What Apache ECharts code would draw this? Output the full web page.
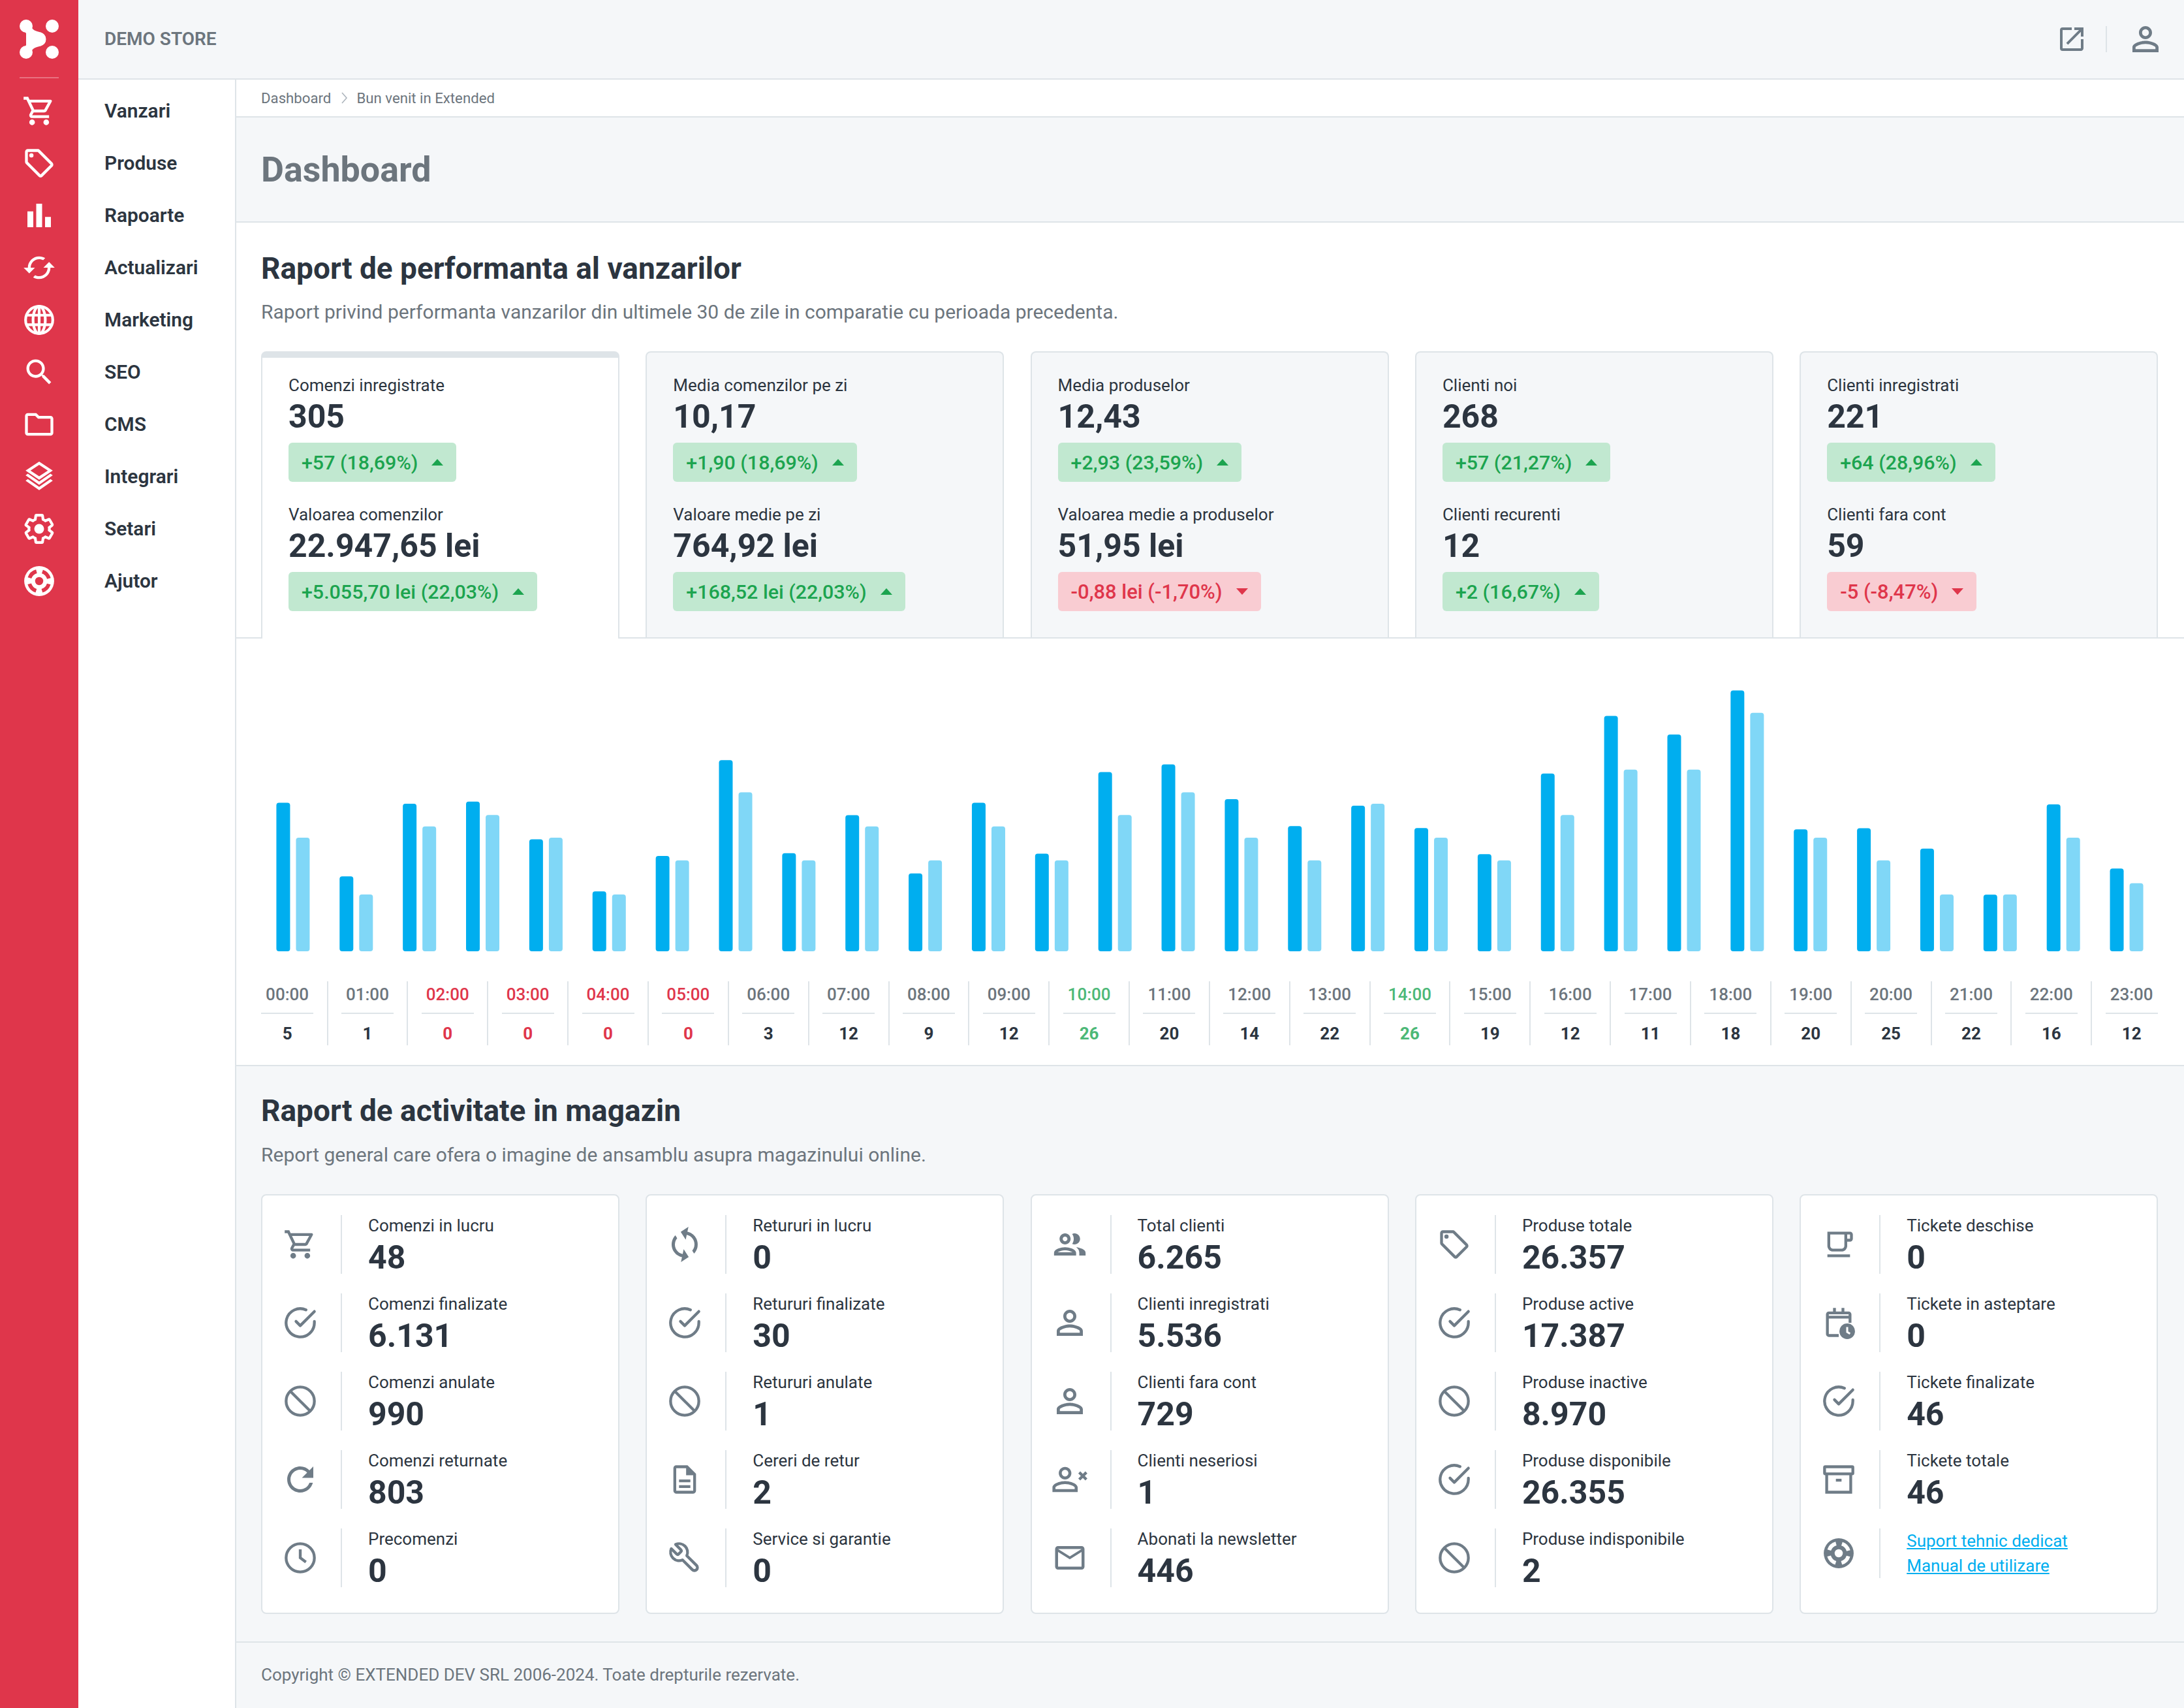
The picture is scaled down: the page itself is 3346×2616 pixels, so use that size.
<!DOCTYPE html>
<html><head><meta charset="utf-8">
<script src="https://cdn.jsdelivr.net/npm/echarts@6/dist/echarts.min.js"></script>
<style>
html,body{margin:0;padding:0;width:3346px;height:2616px;overflow:hidden;background:#fff;font-family:Roboto,sans-serif;-webkit-font-smoothing:antialiased}
#page{position:relative;width:3346px;height:2616px;overflow:hidden}
.b{position:absolute;box-sizing:border-box}
.t{position:absolute;white-space:nowrap}
svg{position:absolute;overflow:visible}
</style></head><body><div id="page"><div id="chart" class="b" style="left:362px;top:1000px;width:2984px;height:480px;z-index:2"></div></div>
<script>
// ---- chart data ----
const days = ['1','2','3','4','5','6','7','8','9','10','11','12','13','14','15','16','17','18','19','20','21','22','23','24','25','26','27','28','29','30'];
const orderValue = [837,422,832,844,631,338,537,1077,553,767,439,837,550,1010,1053,857,706,821,695,547,1002,1327,1222,1470,687,694,579,319,828,466];
const orderCount = [10,5,11,12,10,5,8,14,8,11,8,11,8,12,14,10,8,13,10,8,12,16,16,21,10,8,5,5,10,6];
const hours = ['00:00','01:00','02:00','03:00','04:00','05:00','06:00','07:00','08:00','09:00','10:00','11:00','12:00','13:00','14:00','15:00','16:00','17:00','18:00','19:00','20:00','21:00','22:00','23:00'];
const hourCounts = [5,1,0,0,0,0,3,12,9,12,26,20,14,22,26,19,12,11,18,20,25,22,16,12];
// ---- tiles ----
const tileA = [
 ['Comenzi inregistrate','305','+57 (18,69%)',1,'Valoarea comenzilor','22.947,65 lei','+5.055,70 lei (22,03%)',1],
 ['Media comenzilor pe zi','10,17','+1,90 (18,69%)',1,'Valoare medie pe zi','764,92 lei','+168,52 lei (22,03%)',1],
 ['Media produselor','12,43','+2,93 (23,59%)',1,'Valoarea medie a produselor','51,95 lei','-0,88 lei (-1,70%)',0],
 ['Clienti noi','268','+57 (21,27%)',1,'Clienti recurenti','12','+2 (16,67%)',1],
 ['Clienti inregistrati','221','+64 (28,96%)',1,'Clienti fara cont','59','-5 (-8,47%)',0]
];
const activity = [
 [['cart','Comenzi in lucru','48'],['check','Comenzi finalizate','6.131'],['ban','Comenzi anulate','990'],['redo','Comenzi returnate','803'],['clock','Precomenzi','0']],
 [['syncv','Retururi in lucru','0'],['check','Retururi finalizate','30'],['ban','Retururi anulate','1'],['file','Cereri de retur','2'],['tool','Service si garantie','0']],
 [['people','Total clienti','6.265'],['person','Clienti inregistrati','5.536'],['person','Clienti fara cont','729'],['personx','Clienti neseriosi','1'],['mail','Abonati la newsletter','446']],
 [['tag','Produse totale','26.357'],['check','Produse active','17.387'],['ban','Produse inactive','8.970'],['check','Produse disponibile','26.355'],['ban','Produse indisponibile','2']],
 [['coffee','Tickete deschise','0'],['cal','Tickete in asteptare','0'],['check','Tickete finalizate','46'],['archive','Tickete totale','46']]
];
const menu = ['Vanzari','Produse','Rapoarte','Actualizari','Marketing','SEO','CMS','Integrari','Setari','Ajutor'];
const sideIcons = ['cart','tag','bars','synch','globe','search','folder','layers','gear','buoy'];

const INK='#2c3540', MUTED='#6c757d', LINE='#dee4e8', PANEL='#f5f7f9', RED='#df364b', GREEN='#4cb877', ICON='#6f7c87';
const ICONS={
 cart:'<path d="M15.55 13c.75 0 1.41-.41 1.75-1.03l3.58-6.49A.996.996 0 0 0 20.01 4H5.21l-.94-2H1v2h2l3.6 7.59-1.35 2.44C4.52 15.37 5.48 17 7 17h12v-2H7l1.1-2h7.45zM6.16 6h12.15l-2.76 5H8.53L6.16 6zM7 18c-1.1 0-1.99.9-1.99 2S5.9 22 7 22s2-.9 2-2-.9-2-2-2zm10 0c-1.1 0-1.99.9-1.99 2s.89 2 1.99 2 2-.9 2-2-.9-2-2-2z"/>',
 tag:'<path d="M21.41 11.58l-9-9C12.05 2.22 11.55 2 11 2H4c-1.1 0-2 .9-2 2v7c0 .55.22 1.05.59 1.42l9 9c.36.36.86.58 1.41.58s1.05-.22 1.41-.59l7-7c.37-.36.59-.86.59-1.41s-.23-1.06-.59-1.42zM13 20.01L4 11V4h7v-.01l9 9-7 7.02z"/><circle cx="6.5" cy="6.5" r="1.5"/>',
 bars:'<path d="M4 9.2h4V20H4zM10 4h4v16h-4zm6 9h4v7h-4z"/>',
 synch:'<g transform="rotate(90 12 12)"><path d="M12 4V1L8 5l4 4V6c3.31 0 6 2.69 6 6 0 1.01-.25 1.97-.7 2.8l1.46 1.46C19.54 15.03 20 13.57 20 12c0-4.42-3.58-8-8-8zm0 14c-3.31 0-6-2.69-6-6 0-1.01.25-1.97.7-2.8L5.24 7.74C4.46 8.97 4 10.43 4 12c0 4.42 3.58 8 8 8v3l4-4-4-4v3z"/></g>',
 syncv:'<g transform="rotate(12 12 12)"><path d="M12 4V1L8 5l4 4V6c3.31 0 6 2.69 6 6 0 1.01-.25 1.97-.7 2.8l1.46 1.46C19.54 15.03 20 13.57 20 12c0-4.42-3.58-8-8-8zm0 14c-3.31 0-6-2.69-6-6 0-1.01.25-1.97.7-2.8L5.24 7.74C4.46 8.97 4 10.43 4 12c0 4.42 3.58 8 8 8v3l4-4-4-4v3z"/></g>',
 globe:'<g fill="none" stroke="currentColor" stroke-width="2"><circle cx="12" cy="12" r="10"/><ellipse cx="12" cy="12" rx="4.5" ry="10"/><path d="M12 2v20M2.8 8.5h18.4M2.8 15.5h18.4"/></g>',
 search:'<path d="M15.5 14h-.79l-.28-.27C15.41 12.59 16 11.11 16 9.5 16 5.91 13.09 3 9.5 3S3 5.91 3 9.5 5.91 16 9.5 16c1.61 0 3.09-.59 4.23-1.57l.27.28v.79l5 4.99L20.49 19l-4.99-5zm-6 0C7.01 14 5 11.99 5 9.5S7.01 5 9.5 5 14 7.01 14 9.5 11.99 14 9.5 14z"/>',
 folder:'<path d="M9.17 6l2 2H20v10H4V6h5.17M10 4H4c-1.1 0-1.99.9-1.99 2L2 18c0 1.1.9 2 2 2h16c1.1 0 2-.9 2-2V8c0-1.1-.9-2-2-2h-8l-2-2z"/>',
 layers:'<path d="M12 22l-10-7 1.7-1.2 8.3 5.8 8.3-5.8 1.7 1.2zM12 18l-10-7 1.7-1.2 8.3 5.8 8.3-5.8 1.7 1.2zM12 14.3L2 7.5 12 1l10 6.5zM5.6 7.5l6.4 4.3 6.4-4.3L12 3.4z"/>',
 gear:'<path fill="none" stroke="currentColor" stroke-width="2" d="M19.43 12.98c.04-.32.07-.64.07-.98s-.03-.66-.07-.98l2.11-1.65c.19-.15.24-.42.12-.64l-2-3.46c-.12-.22-.39-.3-.61-.22l-2.49 1c-.52-.4-1.08-.73-1.69-.98l-.38-2.65C14.46 2.18 14.25 2 14 2h-4c-.25 0-.46.18-.49.42l-.38 2.65c-.61.25-1.17.59-1.69.98l-2.49-1c-.23-.09-.49 0-.61.22l-2 3.46c-.13.22-.07.49.12.64l2.11 1.65c-.04.32-.07.65-.07.98s.03.66.07.98l-2.11 1.65c-.19.15-.24.42-.12.64l2 3.46c.12.22.39.3.61.22l2.49-1c.52.4 1.08.73 1.69.98l.38 2.65c.03.24.24.42.49.42h4c.25 0 .46-.18.49-.42l.38-2.65c.61-.25 1.17-.59 1.69-.98l2.49 1c.23.09.49 0 .61-.22l2-3.46c.12-.22.07-.49-.12-.64l-2.11-1.65z"/><circle cx="12" cy="12" r="3.6"/>',
 check:'<g fill="none" stroke="currentColor" stroke-width="2" stroke-linecap="round" stroke-linejoin="round"><path d="M22 11.08V12a10 10 0 1 1-5.93-9.14"/><path d="M22 4L12 14.01l-3-3"/></g>',
 ban:'<g fill="none" stroke="currentColor" stroke-width="2"><circle cx="12" cy="12" r="10"/><path d="M4.93 4.93l14.14 14.14"/></g>',
 redo:'<path d="M17.65 6.35C16.2 4.9 14.21 4 12 4c-4.42 0-7.99 3.58-7.99 8s3.57 8 7.99 8c3.73 0 6.84-2.55 7.73-6h-2.08c-.82 2.33-3.04 4-5.65 4-3.31 0-6-2.69-6-6s2.69-6 6-6c1.66 0 3.14.69 4.22 1.78L13 11h7V4l-2.35 2.35z"/>',
 clock:'<g fill="none" stroke="currentColor" stroke-width="2"><circle cx="12" cy="12" r="10"/><path d="M12 6v6l4 3"/></g>',
 file:'<path d="M8 16h8v2H8zm0-4h8v2H8zm6-10H6c-1.1 0-2 .9-2 2v16c0 1.1.89 2 1.99 2H18c1.1 0 2-.9 2-2V8l-6-6zm4 18H6V4h7v5h5v11z"/>',
 tool:'<g transform="translate(24 0) scale(-1 1)" fill="none" stroke="currentColor" stroke-width="2" stroke-linejoin="round"><path d="M14.7 6.3a1 1 0 0 0 0 1.4l1.6 1.6a1 1 0 0 0 1.4 0l3.77-3.77a6 6 0 0 1-7.94 7.94l-6.91 6.91a2.12 2.12 0 0 1-3-3l6.91-6.91a6 6 0 0 1 7.94-7.94l-3.76 3.76z"/></g>',
 people:'<path d="M9 13.75c-2.34 0-7 1.17-7 3.5V19h14v-1.75c0-2.33-4.66-3.5-7-3.5zM4.34 17c.84-.58 2.87-1.25 4.66-1.25s3.82.67 4.66 1.25H4.34zM9 12c1.93 0 3.5-1.57 3.5-3.5S10.93 5 9 5 5.5 6.57 5.5 8.5 7.07 12 9 12zm0-5c.83 0 1.5.67 1.5 1.5S9.83 10 9 10s-1.5-.67-1.5-1.5S8.17 7 9 7zm7.04 6.81c1.16.84 1.96 1.96 1.96 3.44V19h4v-1.75c0-2.02-3.5-3.17-5.96-3.44zM15 12c1.93 0 3.5-1.57 3.5-3.5S16.93 5 15 5c-.54 0-1.04.13-1.5.35.63.89 1 1.98 1 3.15s-.37 2.26-1 3.15c.46.22.96.35 1.5.35z"/>',
 person:'<path d="M12 5.9c1.16 0 2.1.94 2.1 2.1s-.94 2.1-2.1 2.1S9.9 9.16 9.9 8s.94-2.1 2.1-2.1m0 9c2.97 0 6.1 1.46 6.1 2.1v1.1H5.9V17c0-.64 3.13-2.1 6.1-2.1M12 4C9.79 4 8 5.79 8 8s1.79 4 4 4 4-1.79 4-4-1.79-4-4-4zm0 9c-2.67 0-8 1.34-8 4v3h16v-3c0-2.66-5.33-4-8-4z"/>',
 personx:'<g transform="translate(-3 0)"><path d="M12 5.9c1.16 0 2.1.94 2.1 2.1s-.94 2.1-2.1 2.1S9.9 9.16 9.9 8s.94-2.1 2.1-2.1m0 9c2.97 0 6.1 1.46 6.1 2.1v1.1H5.9V17c0-.64 3.13-2.1 6.1-2.1M12 4C9.79 4 8 5.79 8 8s1.79 4 4 4 4-1.79 4-4-1.79-4-4-4zm0 9c-2.67 0-8 1.34-8 4v3h16v-3c0-2.66-5.33-4-8-4z"/></g><path fill="none" stroke="currentColor" stroke-width="1.8" d="M18 7.5l4.5 4.5M22.5 7.5L18 12"/>',
 mail:'<path d="M22 6c0-1.1-.9-2-2-2H4c-1.1 0-2 .9-2 2v12c0 1.1.9 2 2 2h16c1.1 0 2-.9 2-2V6zm-2 0l-8 5-8-5h16zm0 12H4V8l8 5 8-5v10z"/>',
 coffee:'<path d="M18 3H4v10c0 2.21 1.79 4 4 4h6c2.21 0 4-1.79 4-4v-3h2a2 2 0 0 0 2-2V5c0-1.11-.89-2-2-2zm-2 10c0 1.1-.9 2-2 2H8c-1.1 0-2-.9-2-2V5h10v8zm4-5h-2V5h2v3zM4 19h16v2H4z"/>',
 cal:'<path d="M5 4h3V1.5h2V4h4V1.5h2V4h3c1.1 0 2 .9 2 2v6h-2V9H5v11h7v2H5c-1.1 0-2-.9-2-2V6c0-1.1.9-2 2-2zm0 2v1h14V6z"/><circle cx="18" cy="18" r="5.5"/><path fill="none" stroke="#fff" stroke-width="1.4" d="M18 15v3.5l2 1.2"/>',
 archive:'<g fill="none" stroke="currentColor" stroke-width="2"><rect x="2" y="3" width="20" height="5" rx=".5"/><path d="M3.5 8v13h17V8"/><path d="M10 12.5h4"/></g>',
 ext:'<path d="M19 19H5V5h7V3H5a2 2 0 0 0-2 2v14a2 2 0 0 0 2 2h14c1.1 0 2-.9 2-2v-7h-2v7zM14 3v2h3.59l-9.83 9.83 1.41 1.41L19 6.41V10h2V3h-7z"/>'
};
const ICON_SIZE={person:60,people:58,personx:58,redo:60,syncv:60,mail:54};
function buoy(bg){return '<circle cx="12" cy="12" r="11"/><circle cx="12" cy="12" r="7.4" fill="none" stroke="'+bg+'" stroke-width="2.8" stroke-dasharray="7.2 4.42" stroke-dashoffset="-2.2"/><circle cx="12" cy="12" r="3" fill="'+bg+'"/>';}
const page=document.getElementById('page');
function box(x,y,w,h,css){const d=document.createElement('div');d.className='b';d.style.cssText='left:'+x+'px;top:'+y+'px;width:'+w+'px;height:'+h+'px;'+(css||'');page.appendChild(d);return d;}
function text(x,cy,s,size,weight,color,extra){const d=document.createElement('div');d.className='t';d.textContent=s;
 d.style.cssText='left:'+x+'px;top:'+(cy-size)+'px;height:'+(size*2)+'px;line-height:'+(size*2)+'px;font-size:'+size+'px;font-weight:'+weight+';color:'+color+';'+(extra||'');page.appendChild(d);return d;}
function ctext(cx,cy,s,size,weight,color){return text(cx-100,cy,s,size,weight,color,'width:200px;text-align:center;');}
function icon(name,cx,cy,size,color,bg){const s=document.createElementNS('http://www.w3.org/2000/svg','svg');
 s.setAttribute('viewBox','0 0 24 24');s.setAttribute('width',size);s.setAttribute('height',size);
 s.style.cssText='left:'+(cx-size/2)+'px;top:'+(cy-size/2)+'px;fill:currentColor;color:'+color;
 s.innerHTML=name==='buoy'?buoy(bg):ICONS[name];page.appendChild(s);}

// --- frame ---
box(0,0,3346,2616,'background:#fff');
box(120,0,3226,122,'background:'+PANEL+';border-bottom:2px solid '+LINE);
box(0,0,120,2616,'background:'+RED);
box(360,122,2,2494,'background:'+LINE);
box(362,178,2984,2,'background:'+LINE);
box(362,180,2984,161,'background:'+PANEL+';border-bottom:2px solid '+LINE);
box(362,976,2984,2,'background:'+LINE);
box(362,1631,2984,883,'background:'+PANEL+';border-top:2px solid '+LINE);
box(362,2514,2984,102,'background:'+PANEL+';border-top:2px solid '+LINE);
// logo
(function(){const s=document.createElementNS('http://www.w3.org/2000/svg','svg');s.setAttribute('width',120);s.setAttribute('height',120);
 s.style.cssText='left:0;top:0';s.innerHTML='<g fill="#fff"><circle cx="40" cy="40" r="10"/><circle cx="80" cy="40" r="10"/><circle cx="40" cy="80" r="10"/><circle cx="80" cy="80" r="10"/><circle cx="60" cy="60" r="10"/></g><path d="M40 40C46 52 52 53 60 55C66 57 66 63 60 65C52 67 46 68 40 80" fill="#fff" stroke="#fff" stroke-width="12"/>';page.appendChild(s);})();
box(30,118,60,2,'background:rgba(255,255,255,.3)');
sideIcons.forEach((n,i)=>icon(n,60,170+80*i,n==='bars'?54:n==='layers'||n==='globe'||n==='gear'||n==='buoy'?50:52,'#fff',RED));
text(160,60,'DEMO STORE',28,600,MUTED);
icon('ext',3174,60,48,ICON,PANEL);
box(3226,40,2,40,'background:'+LINE);
icon('person',3287,60,60,ICON,PANEL);
menu.forEach((m,i)=>text(160,170+80*i,m,29.9,600,INK));
text(400,150,'Dashboard',22.2,400,MUTED);
text(546.5,150,'Bun venit in Extended',22.2,400,MUTED);
(function(){const s=document.createElementNS('http://www.w3.org/2000/svg','svg');s.setAttribute('width',10);s.setAttribute('height',18);s.style.cssText='left:523px;top:141px';s.innerHTML='<path d="M1 1l7 8-7 8" fill="none" stroke="#adb5bd" stroke-width="1.6"/>';page.appendChild(s);})();
text(400,260,'Dashboard',53.8,700,MUTED);
text(400,411,'Raport de performanta al vanzarilor',46,700,INK);
text(400,478,'Raport privind performanta vanzarilor din ultimele 30 de zile in comparatie cu perioada precedenta.',30,400,MUTED);
// --- top tiles ---
const STRIDE=589.3;
function badge(x,y,s,up){
 const col=up?'#1ca44f':RED, bg=up?'#c1e8d0':'#f9ccd2', fs=up?30.4:30.9;
 const d=box(x,y,10,60,'background:'+bg+';border-radius:6px;width:auto;display:flex;align-items:center;padding:0 20px;gap:21px;font-size:'+fs+'px;font-weight:500;white-space:nowrap;color:'+col);
 const sp=document.createElement('span');sp.textContent=s;d.appendChild(sp);
 const tr=document.createElement('span');tr.style.cssText='display:block;width:0;height:0;border-left:9px solid transparent;border-right:9px solid transparent;'+(up?'border-bottom:10px solid '+col:'border-top:10px solid '+col);d.appendChild(tr);
}
tileA.forEach((c,i)=>{
 const x=400+STRIDE*i;
 if(i===0){box(x,538,549,440,'background:#fff;border:2px solid '+LINE+';border-bottom:none;border-radius:8px 8px 0 0;border-top:10px solid '+LINE);}
 else box(x,538,549,438,'background:'+PANEL+';border:2px solid '+LINE+';border-bottom:none;border-radius:8px 8px 0 0');
 const tx=x+42;
 text(tx,589.5,c[0],26,400,INK);
 text(tx,638,c[1],50,700,INK);
 badge(tx,678,c[2],c[3]);
 text(tx,787.5,c[4],26,400,INK);
 text(tx,836,c[5],50,700,INK);
 badge(tx,876,c[6],c[7]);
});
// --- hour table ---
const maxHour=Math.max.apply(null,hourCounts);
hours.forEach((h,i)=>{
 const l=378.7+122.85*i, cx=l+61.4, v=hourCounts[i];
 const col=v===0?RED:v===maxHour?GREEN:null;
 ctext(cx,1523,h,26,500,col||MUTED);
 box(cx-40,1551,80,2,'background:'+LINE);
 ctext(cx,1582.5,String(v),26,700,col||INK);
 if(i>0) box(l-1,1503,2,98,'background:'+LINE);
});
// --- bottom ---
text(400,1701,'Raport de activitate in magazin',46,700,INK);
text(400,1769,'Report general care ofera o imagine de ansamblu asupra magazinului online.',30,400,MUTED);
activity.forEach((col,i)=>{
 const x=400+STRIDE*i;
 box(x,1829,549,643,'background:#fff;border:2px solid '+LINE+';border-radius:8px');
 col.forEach((r,j)=>{
  const y=120*j;
  box(x+122,1861+y,2,90,'background:'+LINE);
  icon(r[0],x+60,1906+y,ICON_SIZE[r[0]]||52,ICON,'#fff');
  text(x+164,1876.5+y,r[1],26,400,INK);
  text(x+164,1926+y,r[2],50,700,INK);
 });
 if(i===4){
  box(x+122,2341,2,76,'background:'+LINE);
  icon('buoy',x+60,2379,50,ICON,'#fff');
  text(x+164,2360,'Suport tehnic dedicat',26,400,'#00aeef','text-decoration:underline;');
  text(x+164,2398,'Manual de utilizare',26,400,'#00aeef','text-decoration:underline;');
 }
});
text(400,2565,'Copyright © EXTENDED DEV SRL 2006-2024. Toate drepturile rezervate.',26,400,MUTED);
page.appendChild(document.getElementById('chart'));

// --- chart ---
const chart=echarts.init(document.getElementById('chart'),null,{renderer:'canvas'});
chart.setOption({
 animation:false,
 grid:{left:38.5,top:57,width:2906,height:400,containLabel:false},
 xAxis:{type:'category',data:days,axisLine:{show:false},axisTick:{show:false},axisLabel:{show:false},splitLine:{show:false}},
 yAxis:[
  {type:'value',min:0,max:1472,show:false,splitLine:{show:false}},
  {type:'value',min:0,max:23,show:false,splitLine:{show:false}}
 ],
 series:[
  {name:'Valoare',type:'bar',yAxisIndex:0,data:orderValue,barWidth:21,barGap:'43%',itemStyle:{color:'#00aeef',borderRadius:4}},
  {name:'Comenzi',type:'bar',yAxisIndex:1,data:orderCount,barWidth:21,barGap:'43%',itemStyle:{color:'#80d7f7',borderRadius:4}}
 ]
});
</script></body></html>
